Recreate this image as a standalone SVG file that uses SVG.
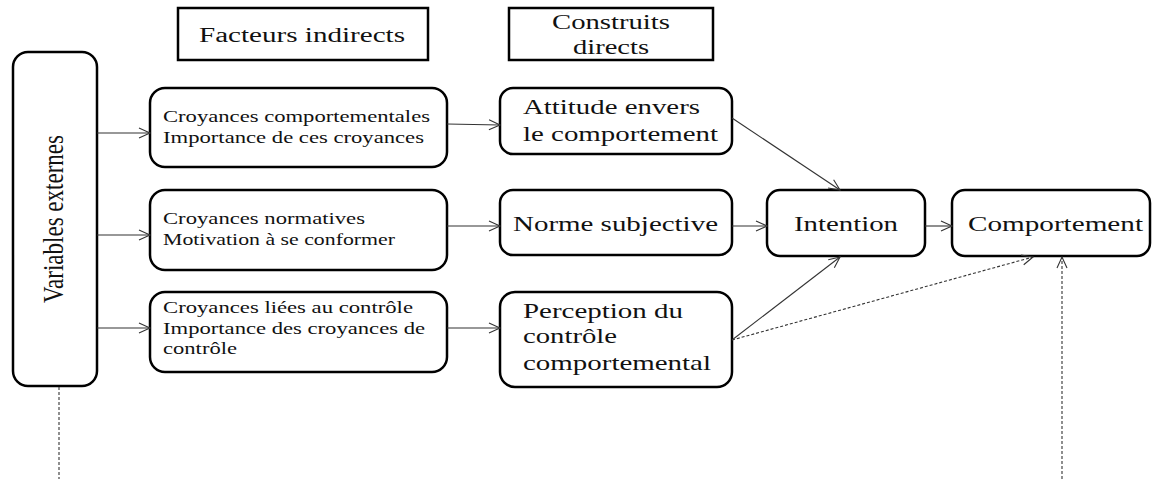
<svg xmlns="http://www.w3.org/2000/svg" width="1152" height="479" viewBox="0 0 1152 479">
<style>
.box{fill:#fff;stroke:#000;stroke-width:2.5}
.hdr{fill:#fff;stroke:#000;stroke-width:2.5}
text{font-family:"Liberation Serif","Times New Roman",serif;fill:#111}
.s{font-size:17.5px}
.l{font-size:22px}
.h{font-size:20px}
.c{fill:none;stroke:#333;stroke-width:1.1}
.d{fill:none;stroke:#333;stroke-width:1.1;stroke-dasharray:3,2}
</style>
<defs>
<marker id="arr" markerUnits="userSpaceOnUse" markerWidth="14" markerHeight="12" refX="12" refY="6" orient="auto">
<path d="M1,1 L12,6 L1,11" fill="none" stroke="#333" stroke-width="1.1"/>
</marker>
</defs>
<g id="hdr-indirects">
<rect class="hdr" x="178" y="8" width="250" height="52"/>
<text class="h" x="199" y="42" textLength="206" lengthAdjust="spacingAndGlyphs">Facteurs indirects</text>
</g>
<g id="hdr-directs">
<rect class="hdr" x="509" y="8" width="204" height="52"/>
<text class="h" x="552" y="29" textLength="118" lengthAdjust="spacingAndGlyphs">Construits</text>
<text class="h" x="573" y="54" textLength="76" lengthAdjust="spacingAndGlyphs">directs</text>
</g>
<g id="variables">
<rect class="box" x="13" y="52" width="84" height="334" rx="15"/>
<text class="l" transform="translate(63,219) scale(1.3,1) rotate(-90)" text-anchor="middle" textLength="168" lengthAdjust="spacingAndGlyphs">Variables externes</text>
</g>
<g id="croy-comp">
<rect class="box" x="150" y="88" width="297" height="79" rx="15"/>
<text class="s" x="163" y="122" textLength="267" lengthAdjust="spacingAndGlyphs">Croyances comportementales</text>
<text class="s" x="163" y="143" textLength="261" lengthAdjust="spacingAndGlyphs">Importance de ces croyances</text>
</g>
<g id="croy-norm">
<rect class="box" x="150" y="190" width="297" height="80" rx="15"/>
<text class="s" x="163" y="224" textLength="202" lengthAdjust="spacingAndGlyphs">Croyances normatives</text>
<text class="s" x="163" y="245" textLength="232" lengthAdjust="spacingAndGlyphs">Motivation à se conformer</text>
</g>
<g id="croy-ctrl">
<rect class="box" x="150" y="292" width="297" height="80" rx="15"/>
<text class="s" x="163" y="313" textLength="250" lengthAdjust="spacingAndGlyphs">Croyances liées au contrôle</text>
<text class="s" x="163" y="334" textLength="262" lengthAdjust="spacingAndGlyphs">Importance des croyances de</text>
<text class="s" x="163" y="354" textLength="74" lengthAdjust="spacingAndGlyphs">contrôle</text>
</g>
<g id="attitude">
<rect class="box" x="500" y="88" width="232" height="66" rx="13"/>
<text class="l" x="523" y="114" textLength="177" lengthAdjust="spacingAndGlyphs">Attitude envers</text>
<text class="l" x="523" y="141" textLength="195" lengthAdjust="spacingAndGlyphs">le comportement</text>
</g>
<g id="norme">
<rect class="box" x="500" y="190" width="232" height="65" rx="13"/>
<text class="l" x="513" y="231" textLength="205" lengthAdjust="spacingAndGlyphs">Norme subjective</text>
</g>
<g id="perception">
<rect class="box" x="500" y="292" width="232" height="95" rx="15"/>
<text class="l" x="523" y="318" textLength="160" lengthAdjust="spacingAndGlyphs">Perception du</text>
<text class="l" x="523" y="343" textLength="94" lengthAdjust="spacingAndGlyphs">contrôle</text>
<text class="l" x="523" y="370" textLength="188" lengthAdjust="spacingAndGlyphs">comportemental</text>
</g>
<g id="intention">
<rect class="box" x="767" y="190" width="158" height="66" rx="13"/>
<text class="l" x="794" y="231" textLength="104" lengthAdjust="spacingAndGlyphs">Intention</text>
</g>
<g id="comportement">
<rect class="box" x="952" y="190" width="198" height="66" rx="13"/>
<text class="l" x="968" y="231" textLength="175" lengthAdjust="spacingAndGlyphs">Comportement</text>
</g>
<g id="connectors">
<line class="c" x1="97" y1="133" x2="150" y2="133" marker-end="url(#arr)"/>
<line class="c" x1="97" y1="235" x2="150" y2="235" marker-end="url(#arr)"/>
<line class="c" x1="97" y1="328" x2="150" y2="328" marker-end="url(#arr)"/>
<line class="c" x1="447" y1="124" x2="500" y2="125" marker-end="url(#arr)"/>
<line class="c" x1="447" y1="226" x2="500" y2="226" marker-end="url(#arr)"/>
<line class="c" x1="447" y1="328" x2="500" y2="328" marker-end="url(#arr)"/>
<line class="c" x1="732" y1="118" x2="840" y2="190" marker-end="url(#arr)"/>
<line class="c" x1="732" y1="226" x2="767" y2="226" marker-end="url(#arr)"/>
<line class="c" x1="732" y1="340" x2="840" y2="257" marker-end="url(#arr)"/>
<line class="c" x1="925" y1="226" x2="952" y2="226" marker-end="url(#arr)"/>
<line class="d" x1="732" y1="340" x2="1033" y2="257" marker-end="url(#arr)"/>
<line class="d" x1="1062" y1="479" x2="1062" y2="257" marker-end="url(#arr)"/>
<line class="d" x1="59" y1="387" x2="59" y2="479"/>
</g>
</svg>
